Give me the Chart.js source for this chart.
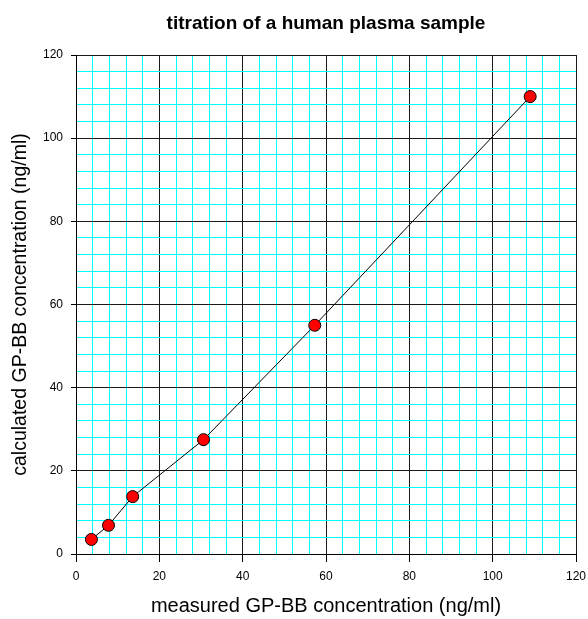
<!DOCTYPE html>
<html>
<head>
<meta charset="utf-8">
<script src="https://cdn.jsdelivr.net/npm/chart.js@4"></script>
<style>
  html, body { margin: 0; padding: 0; background: #fff; }
  #wrap { width: 588px; height: 619px; }
</style>
</head>
<body>
<div id="wrap"><canvas id="titrationChart" width="588" height="619"></canvas></div>
<script>
    // measured vs calculated GP-BB (ng/ml)
    const measured = [3.7, 7.8, 13.6, 30.6, 57.3, 109];
    const calculated = [3.5, 6.9, 13.8, 27.5, 55, 110];
    const axisTicks = [0, 20, 40, 60, 80, 100, 120];
    const minorStep = 4;

    const points = measured.map((x, i) => ({ x: x, y: calculated[i] }));

    // grid lines every 4 units, labels only every 20
    const gridValues = [];
    for (let v = axisTicks[0]; v <= axisTicks[axisTicks.length - 1]; v += minorStep) {
        gridValues.push(v);
    }

    function setGridTicks(scale) {
        scale.ticks = gridValues.map(v => ({ value: v }));
    }
    function gridColor(ctx) {
        if (!ctx.tick) return '#000';
        return axisTicks.includes(ctx.tick.value) ? '#1a1a1a' : '#00ffff';
    }
    function tickMarkColor(ctx) {
        if (!ctx.tick) return '#000';
        return axisTicks.includes(ctx.tick.value) ? '#000' : 'rgba(0,0,0,0)';
    }
    function majorLabel(value) {
        return axisTicks.includes(value) ? value : '';
    }

    const font = 'Arial, "Liberation Sans", sans-serif';

    const ctx = document.getElementById('titrationChart').getContext('2d');
    new Chart(ctx, {
        type: 'scatter',
        data: {
            datasets: [{
                data: points,
                showLine: true,
                borderColor: '#000',
                borderWidth: 1,
                pointRadius: 6,
                pointHoverRadius: 6,
                pointBackgroundColor: '#ff0000',
                pointBorderColor: '#000',
                pointBorderWidth: 1
            }]
        },
        options: {
            responsive: false,
            animation: false,
            layout: { padding: { left: 0, right: 12, top: 0, bottom: 0 } },
            plugins: {
                legend: { display: false },
                tooltip: { enabled: false },
                title: {
                    display: true,
                    fullSize: false,
                    text: 'titration of a human plasma sample',
                    color: '#000',
                    font: { family: font, size: 19, weight: 'bold' },
                    padding: { top: 12.6, bottom: 19.6 }
                }
            },
            scales: {
                x: {
                    type: 'linear',
                    min: 0,
                    max: 120,
                    afterBuildTicks: setGridTicks,
                    afterFit: (scale) => {
                        scale.height = 65;
                        scale.paddingLeft = 0;
                        scale.paddingRight = 0;
                    },
                    ticks: {
                        autoSkip: false,
                        maxRotation: 0,
                        color: '#000',
                        padding: 7.5,
                        font: { family: font, size: 12 },
                        callback: majorLabel
                    },
                    grid: {
                        color: gridColor,
                        tickColor: tickMarkColor,
                        tickLength: 8,
                        lineWidth: 1
                    },
                    border: { color: '#000', width: 1 },
                    title: {
                        display: true,
                        text: 'measured GP-BB concentration (ng/ml)',
                        color: '#000',
                        font: { family: font, size: 20 },
                        padding: { top: 0, bottom: 1 }
                    }
                },
                y: {
                    type: 'linear',
                    min: 0,
                    max: 120,
                    afterBuildTicks: setGridTicks,
                    afterFit: (scale) => {
                        scale.width = 76;
                        scale.paddingTop = 0;
                        scale.paddingBottom = 0;
                    },
                    ticks: {
                        autoSkip: false,
                        color: '#000',
                        padding: 8,
                        font: { family: font, size: 12 },
                        callback: majorLabel
                    },
                    grid: {
                        color: gridColor,
                        tickColor: tickMarkColor,
                        tickLength: 5,
                        lineWidth: 1
                    },
                    border: { color: '#000', width: 1 },
                    title: {
                        display: true,
                        text: 'calculated GP-BB concentration (ng/ml)',
                        color: '#000',
                        font: { family: font, size: 19.5 },
                        padding: { top: 9.4, bottom: 0 }
                    }
                }
            }
        }
    });
</script>
</body>
</html>
